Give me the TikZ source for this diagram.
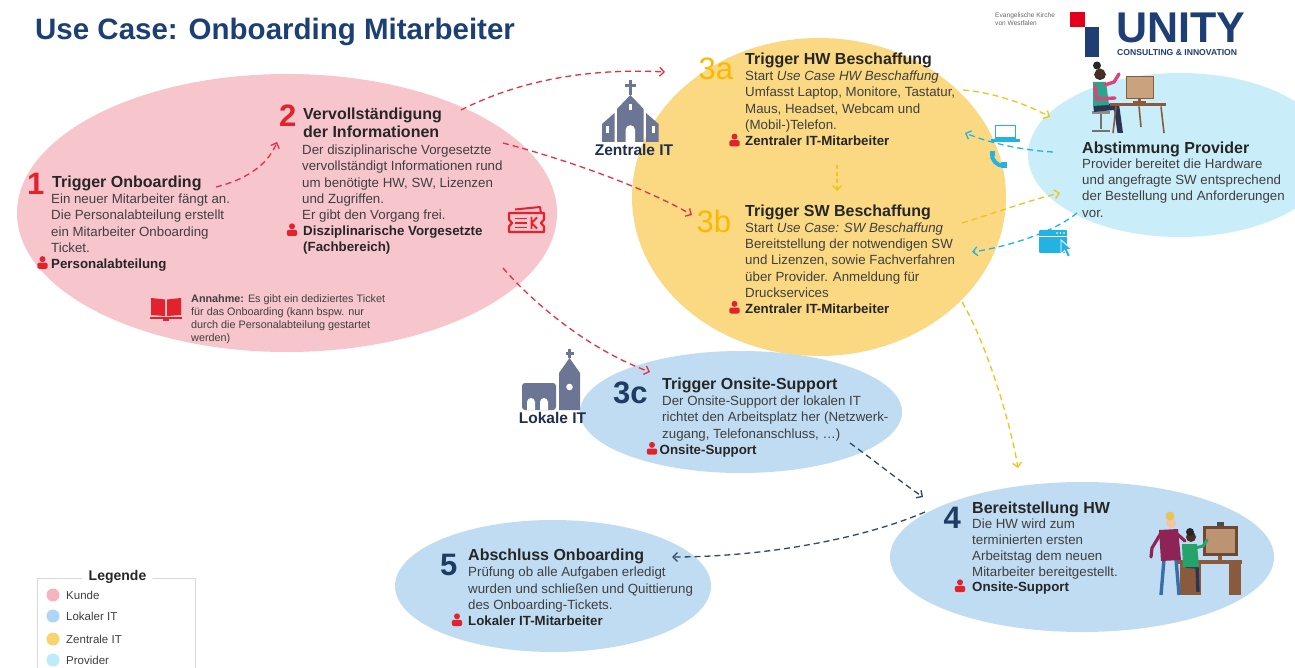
\documentclass[tikz,border=0pt]{standalone}
\usepackage{fontspec}
\setmainfont{Liberation Sans}
\usetikzlibrary{shapes.geometric,arrows.meta}

\definecolor{kundefill}{HTML}{F7C5CC}
\definecolor{zentralfill}{HTML}{FBD983}
\definecolor{lokalfill}{HTML}{BFDCF2}
\definecolor{provfill}{HTML}{C9EDF9}
\definecolor{redc}{HTML}{E2232E}
\definecolor{yelnum}{HTML}{FBB800}
\definecolor{navynum}{HTML}{1F3D63}
\definecolor{hdc}{HTML}{262626}
\definecolor{bdc}{HTML}{3F3F3F}
\definecolor{titlec}{HTML}{1C4073}
\definecolor{churchc}{HTML}{6C7593}
\definecolor{labc}{HTML}{1F2E4C}
\definecolor{redarr}{HTML}{E33045}
\definecolor{yelarr}{HTML}{F2C318}
\definecolor{cyanarr}{HTML}{22B3E3}
\definecolor{darkarr}{HTML}{2F4866}
\definecolor{unityblue}{HTML}{1E3E74}
\definecolor{unityred}{HTML}{E2001A}
\definecolor{deskc}{HTML}{8A5A3E}
\definecolor{monc}{HTML}{C9A27E}
\definecolor{tealc}{HTML}{2BA58A}
\definecolor{pinkc}{HTML}{D9457B}
\definecolor{navyc}{HTML}{2A3552}
\definecolor{skinc}{HTML}{4A2E22}
\definecolor{purplec}{HTML}{8E2355}
\definecolor{jeansc}{HTML}{3B6EA8}
\definecolor{hairc}{HTML}{E8C35A}
\definecolor{lightskin}{HTML}{F0C6A0}
\definecolor{greenc}{HTML}{25A36B}
\definecolor{legpink}{HTML}{F4B4C0}
\definecolor{legblue}{HTML}{AED5F5}
\definecolor{legyellow}{HTML}{F7D56C}
\definecolor{legcyan}{HTML}{BDEBF9}

\newcommand\txtlines[1]{\begin{tabular}[t]{@{}l@{}}#1\end{tabular}}

\tikzset{
  zone/.style={ellipse, draw=none, inner sep=0pt},
  numbig/.style={anchor=base west, inner sep=0pt, font=\fontsize{31}{31}\selectfont\bfseries},
  numthin/.style={anchor=base west, inner sep=0pt, font=\fontsize{31}{31}\selectfont},
  hd/.style={anchor=base west, inner sep=0pt, text depth=0pt, text=hdc, font=\fontsize{16}{18.4}\selectfont\bfseries},
  bd/.style={anchor=base west, inner sep=0pt, text=bdc, font=\fontsize{13.3}{16.3}\selectfont},
  rl/.style={anchor=base west, inner sep=0pt, text=hdc, font=\fontsize{13.3}{16.3}\selectfont\bfseries},
  note/.style={anchor=base west, inner sep=0pt, text=bdc, font=\fontsize{10.8}{12.8}\selectfont},
  itlabel/.style={anchor=base, inner sep=0pt, text=labc, font=\fontsize{15.5}{16}\selectfont\bfseries},
  legtxt/.style={anchor=west, inner sep=0pt, text=bdc, font=\fontsize{11.5}{13}\selectfont},
  flow/.style={line width=1.3pt, dash pattern=on 6pt off 4pt,
    -{Straight Barb[length=4.5pt,width=9pt,line width=1.3pt]}},
  person/.pic={
    \fill[redc] (0,-9.4) circle[radius=3pt];
    \fill[redc, rounded corners=2pt] (-5.2,0.3) -- (-5.2,-5.8) -- (5.2,-5.8) -- (5.2,0.3) -- cycle;
  }
}

\begin{document}
\begin{tikzpicture}[x=1pt,y=-1pt]
\useasboundingbox (0,0) rectangle (1295,668);
\fill[white] (0,0) rectangle (1295,668);
\begin{scope}
\clip (0,0) rectangle (1295,668);

% ---------- zones ----------
\node[zone, fill=kundefill, minimum width=540pt, minimum height=278pt] (kunde) at (287,213) {};
\node[zone, fill=zentralfill, minimum width=374pt, minimum height=318pt] (zentral) at (819,197) {};
\node[zone, fill=provfill, minimum width=304pt, minimum height=164pt] (prov) at (1180,155) {};
\node[zone, fill=lokalfill, minimum width=322pt, minimum height=122pt] (onsite) at (741,412) {};
\node[zone, fill=lokalfill, minimum width=384pt, minimum height=150pt] (bereit) at (1082,557) {};
\node[zone, fill=lokalfill, minimum width=316pt, minimum height=132pt] (abschluss) at (553,586) {};

% ---------- title ----------
\node[anchor=base west, inner sep=0pt, text=titlec, font=\fontsize{29.5}{30}\selectfont\bfseries] (title) at (35,40) {Use Case: Onboarding Mitarbeiter};

% ---------- logo ----------
\node[anchor=base west, inner sep=0pt, text=black!60, font=\fontsize{6.6}{8.7}\selectfont] (ekvw) at (995,17.3) {\txtlines{Evangelische Kirche\\von Westfalen}};
\fill[unityred] (1070,12) rectangle (1085,27);
\fill[unityblue] (1085,27.5) rectangle (1099,57);
\node[anchor=base west, inner sep=0pt, text depth=0pt, text=unityblue, font=\fontsize{43}{43}\selectfont\bfseries] (unity) at (1116,43) {UNITY};
\node[anchor=base west, inner sep=0pt, text=unityblue, font=\fontsize{8.6}{9}\selectfont\bfseries] (unitysub) at (1117,56) {CONSULTING \& INNOVATION};

% ---------- church: Zentrale IT ----------
\begin{scope}[fill=churchc]
  \fill (628.8,80) rectangle (631.8,95);
  \fill (625,84) rectangle (635.6,87);
  \fill (617,142) -- (617,109) -- (630.3,95) -- (643.6,109) -- (643.6,142) -- cycle;
  \fill (602,142) -- (602,124) -- (614.5,113) -- (614.5,142) -- cycle;
  \fill (646,142) -- (646,113) -- (658.6,124) -- (658.6,142) -- cycle;
\end{scope}
\fill[white] (625.5,142) -- (625.5,130) arc[start angle=180,end angle=0,radius=4.8pt] -- (635.1,142) -- cycle;
\fill[white] (628.8,104) rectangle (631.8,110);
\fill[white] (605.5,126) rectangle (608.5,133);
\fill[white] (652,126) rectangle (655,133);
\node[itlabel] (zlabel) at (634,155.5) {Zentrale IT};

% ---------- church: Lokale IT ----------
\begin{scope}[fill=churchc]
  \fill[rounded corners=3pt] (522,410) -- (522,383) -- (556,383) -- (556,410) -- cycle;
  \fill (559,410) -- (559,373) -- (569.5,358) -- (580,373) -- (580,410) -- cycle;
  \fill (568,349) rectangle (571,358);
  \fill (565.5,351.5) rectangle (573.5,354.5);
\end{scope}
\fill[white] (527,410) -- (527,402) arc[start angle=180,end angle=0,radius=4pt] -- (535,410) -- cycle;
\fill[white] (540,410) -- (540,402) arc[start angle=180,end angle=0,radius=4pt] -- (548,410) -- cycle;
\fill[white] (569.5,387) circle[radius=3.3pt];
\node[itlabel] (llabel) at (552.5,423.5) {Lokale IT};

% ---------- ticket icon ----------
\draw[redc, line width=2.2pt, line join=round] (509,213) -- (544,213) -- (544,219.5) -- (541,223) -- (544,226.5) -- (544,232) -- (509,232) -- (509,226.5) -- (512,223) -- (509,219.5) -- cycle;
\draw[redc, line width=1.8pt] (515,218.5) -- (527,218.5) (515,223) -- (527,223) (515,227.5) -- (527,227.5);
\draw[redc, line width=1.8pt] (531.5,217) -- (531.5,229) (531.5,223) -- (537,217.5) (531.5,223) -- (537,228.5);
\draw[redc, line width=2pt, line join=round] (515,209.5) -- (540,207) -- (541,213);

% ---------- book icon ----------
\fill[redc] (151,298) -- (165,299.5) -- (165,316) -- (151,315) -- cycle;
\fill[redc] (167,299.5) -- (181,298) -- (181,315) -- (167,316) -- cycle;
\fill[redc] (150,316.5) rectangle (182,319);
\fill[redc] (163,318.5) rectangle (169,321);

% ---------- device icons ----------
\draw[cyanarr, line width=1.6pt] (995.5,125.5) rectangle (1015.5,138);
\fill[cyanarr] (991,139) rectangle (1020,142);
\draw[cyanarr, line width=4pt, line cap=round] (992,153) .. controls (991,160) and (997,166) .. (1004,166);
\fill[cyanarr] (989.5,151) rectangle (995,156);
\fill[cyanarr] (1001,162.5) rectangle (1007,168);
\fill[cyanarr, rounded corners=1pt] (1039,230) rectangle (1067,253);
\draw[white, line width=0.9pt] (1039,236) -- (1067,236);
\fill[white] (1057,233) circle[radius=0.9pt] (1060.5,233) circle[radius=0.9pt] (1064,233) circle[radius=0.9pt];
\filldraw[fill=cyanarr, draw=white, line width=0.9pt] (1061,240) -- (1061,254) -- (1064.5,250.5) -- (1067.5,257) -- (1070.5,255.8) -- (1067.5,249.5) -- (1072,249.5) -- cycle;

% ---------- provider illustration ----------
\begin{scope}[shift={(0,5)}]
\fill[black!45] (1092,106) rectangle (1110,109.5);
\draw[black!55, line width=1.6pt] (1101,109.5) -- (1101,124) (1092,126) -- (1110,126);
\fill[navyc] (1093,98) -- (1119,99) -- (1123,128) -- (1117.5,128) -- (1114,105) -- (1094,107) -- cycle;
\fill[tealc] (1093,77) -- (1106,77) -- (1109,100) -- (1093,101) -- cycle;
\draw[pinkc, line width=3.4pt, line cap=round] (1095,81) -- (1097,94) -- (1115,93);
\draw[pinkc, line width=3.4pt, line cap=round] (1105,80) -- (1114,77) -- (1119,69);
\fill[skinc] (1100,69) circle[radius=5.5pt];
\fill[black!85] (1097,60.5) circle[radius=4pt];
\draw[black!80, line width=1.1pt] (1094.5,69) arc[start angle=180, end angle=360, radius=5.5pt];
\fill[deskc] (1110,98) rectangle (1166,101.5);
\draw[deskc, line width=1.6pt] (1116,101.5) -- (1113,128) (1161,101.5) -- (1164,128) (1139,101.5) -- (1141,122);
\fill[monc] (1126,71) rectangle (1153,93);
\draw[deskc, line width=0.8pt] (1126,71) rectangle (1153,93);
\fill[deskc] (1138,93) rectangle (1141,98);
\fill[deskc] (1133,96.5) rectangle (1146,98);
\end{scope}

% ---------- onsite illustration ----------
\fill[deskc] (1178,560) rectangle (1242,564);
\fill[deskc] (1180,564) rectangle (1201,595);
\fill[deskc] (1229,564) rectangle (1241,595);
\fill[deskc!80!black] (1203,526) rectangle (1238,556);
\fill[monc!80!deskc] (1206,529) rectangle (1235,553);
\fill[black!70] (1217,522) rectangle (1224,526);
\fill[deskc] (1218,556) rectangle (1222,560);
\draw[jeansc, line width=3.4pt] (1164,559) -- (1161,595) (1176,559) -- (1179,595);
\fill[purplec] (1159,530) -- (1178,529) -- (1181,560) -- (1161,561) -- cycle;
\draw[purplec, line width=3.2pt, line cap=round] (1176,533) -- (1185,541);
\draw[purplec, line width=3.2pt, line cap=round] (1161,533) -- (1152,548) -- (1151,557);
\fill[lightskin] (1171,523) circle[radius=5pt];
\fill[hairc] (1170,516) circle[radius=4.5pt];
\draw[navyc, line width=3.4pt] (1186,566) -- (1197,567) -- (1198,592);
\fill[greenc] (1182,544) -- (1197,544) -- (1199,567) -- (1183,567) -- cycle;
\draw[greenc, line width=3pt, line cap=round] (1195,548) -- (1203,546) -- (1207,540);
\fill[skinc] (1191,537) circle[radius=5pt];
\fill[black!85] (1190,532) circle[radius=4pt];

% ---------- connectors ----------
\coordinate (o1) at (216,187);   \coordinate (i2) at (277,142);
\coordinate (o2a) at (461,110);  \coordinate (i3a) at (665,72);
\coordinate (o2b) at (503,143);  \coordinate (i3b) at (692,215);
\coordinate (o2c) at (503,268);  \coordinate (i3c) at (650,372);
\coordinate (o3a) at (963,90);   \coordinate (ipa) at (1050,117);
\coordinate (opa) at (1053,152); \coordinate (i3ar) at (965,133);
\coordinate (o3b) at (962,223);  \coordinate (ipb) at (1060,193);
\coordinate (opb) at (1077,213); \coordinate (i3br) at (972,252);
\coordinate (o3bd) at (962,302); \coordinate (i4y) at (1018,468);
\coordinate (o3ad) at (837,165); \coordinate (i3bt) at (837,191);
\coordinate (o3c) at (850,443);  \coordinate (i4) at (923,497);
\coordinate (o4) at (925,512);   \coordinate (i5) at (672,557);

\draw[flow, redarr] (o1) .. controls (245,180) and (268,165) .. (i2);
\draw[flow, redarr] (o2a) .. controls (520,80) and (590,68) .. (i3a);
\draw[flow, redarr] (o2b) .. controls (560,158) and (640,185) .. (i3b);
\draw[flow, redarr] (o2c) .. controls (535,305) and (590,350) .. (i3c);
\draw[flow, yelarr] (o3a) .. controls (990,92) and (1025,103) .. (ipa);
\draw[flow, cyanarr] (opa) .. controls (1020,150) and (990,143) .. (i3ar);
\draw[flow, yelarr] (o3b) .. controls (995,213) and (1030,200) .. (ipb);
\draw[flow, cyanarr] (opb) .. controls (1050,235) and (1000,248) .. (i3br);
\draw[flow, yelarr] (o3bd) .. controls (985,340) and (1010,420) .. (i4y);
\draw[flow, yelarr, dash pattern=on 4pt off 3pt] (o3ad) -- (i3bt);
\draw[flow, darkarr] (o3c) .. controls (880,465) and (905,485) .. (i4);
\draw[flow, darkarr] (o4) .. controls (860,540) and (760,557) .. (i5);

% ---------- 1 Trigger Onboarding ----------
\node[numbig, text=redc] (n1) at (27,195) {1};
\node[hd] (h1) at (52,187.5) {Trigger Onboarding};
\node[bd] (b1) at (51,203.5) {\txtlines{Ein neuer Mitarbeiter fängt an.\\Die Personalabteilung erstellt\\ein Mitarbeiter Onboarding\\Ticket.}};
\pic at (42.5,268.5) {person};
\node[rl] (r1) at (51,268.5) {Personalabteilung};

% ---------- 2 Vervollstaendigung ----------
\node[numbig, text=redc] (n2) at (279,127) {2};
\node[hd] (h2) at (303,119.3) {\txtlines{Vervollständigung\\der Informationen}};
\node[bd] (b2) at (302,154.5) {\txtlines{Der disziplinarische Vorgesetzte\\vervollständigt Informationen rund\\um benötigte HW, SW, Lizenzen\\und Zugriffen.\\Er gibt den Vorgang frei.}};
\pic at (292,235.7) {person};
\node[rl] (r2) at (303,235.7) {\txtlines{Disziplinarische Vorgesetzte\\(Fachbereich)}};

\node[note] (annahme) at (191,302.7) {\txtlines{\textbf{Annahme:} Es gibt ein dediziertes Ticket\\für das Onboarding (kann bspw. nur\\durch die Personalabteilung gestartet\\werden)}};

% ---------- 3a / 3b ----------
\node[numthin, text=yelnum] (n3a) at (698.5,80) {3a};
\node[hd] (h3a) at (745,65) {Trigger HW Beschaffung};
\node[bd] (b3a) at (745,80.7) {\txtlines{Start \textit{Use Case HW Beschaffung}\\Umfasst Laptop, Monitore, Tastatur,\\Maus, Headset, Webcam und\\(Mobil-)Telefon.}};
\pic at (734.5,146) {person};
\node[rl] (r3a) at (745,146) {Zentraler IT-Mitarbeiter};

\node[numthin, text=yelnum] (n3b) at (696.5,233) {3b};
\node[hd] (h3b) at (745,216.7) {Trigger SW Beschaffung};
\node[bd] (b3b) at (745,232.3) {\txtlines{Start \textit{Use Case: SW Beschaffung}\\Bereitstellung der notwendigen SW\\und Lizenzen, sowie Fachverfahren\\über Provider. Anmeldung für\\Druckservices}};
\pic at (734.5,313.3) {person};
\node[rl] (r3b) at (745,313.3) {Zentraler IT-Mitarbeiter};

% ---------- Provider ----------
\node[hd] (hp) at (1082,154) {Abstimmung Provider};
\node[bd] (bp) at (1082,168.3) {\txtlines{Provider bereitet die Hardware\\und angefragte SW entsprechend\\der Bestellung und Anforderungen\\vor.}};

% ---------- 3c ----------
\node[numbig, text=navynum] (n3c) at (613,403) {3c};
\node[hd] (h3c) at (662,389.5) {Trigger Onsite-Support};
\node[bd] (b3c) at (662,405.5) {\txtlines{Der Onsite-Support der lokalen IT\\richtet den Arbeitsplatz her (Netzwerk-\\zugang, Telefonanschluss, \dots)}};
\pic at (652,454.3) {person};
\node[rl] (r3c) at (659.5,454.3) {Onsite-Support};

% ---------- 4 ----------
\node[numbig, text=navynum] (n4) at (943.5,528) {4};
\node[hd] (h4) at (972,513) {Bereitstellung HW};
\node[bd] (b4) at (972,528) {\txtlines{Die HW wird zum\\terminierten ersten\\Arbeitstag dem neuen\\Mitarbeiter bereitgestellt.}};
\pic at (960,591.7) {person};
\node[rl] (r4) at (972,591.7) {Onsite-Support};

% ---------- 5 ----------
\node[numbig, text=navynum] (n5) at (440,575) {5};
\node[hd] (h5) at (468,560) {Abschluss Onboarding};
\node[bd] (b5) at (468,576.7) {\txtlines{Prüfung ob alle Aufgaben erledigt\\wurden und schließen und Quittierung\\des Onboarding-Tickets.}};
\pic at (457,625.7) {person};
\node[rl] (r5) at (468,625.7) {Lokaler IT-Mitarbeiter};

% ---------- legend ----------
\draw[black!15, line width=0.8pt] (82,578) -- (37,578) -- (37,668);
\draw[black!15, line width=0.8pt] (153,578) -- (195,578) -- (195,668);
\node[anchor=base, inner sep=0pt, text=hdc, font=\fontsize{14}{15}\selectfont\bfseries] (leg) at (117.5,580.5) {Legende};
\fill[legpink] (53,595) circle[radius=6.5pt];
\fill[legblue] (53,616) circle[radius=6.5pt];
\fill[legyellow] (53,639) circle[radius=6.5pt];
\fill[legcyan] (53,660) circle[radius=6.5pt];
\node[legtxt] (lk) at (66,595) {Kunde};
\node[legtxt] (ll) at (66,616) {Lokaler IT};
\node[legtxt] (lz) at (66,639) {Zentrale IT};
\node[legtxt] (lp) at (66,660) {Provider};
\end{scope}
\end{tikzpicture}
\end{document}
